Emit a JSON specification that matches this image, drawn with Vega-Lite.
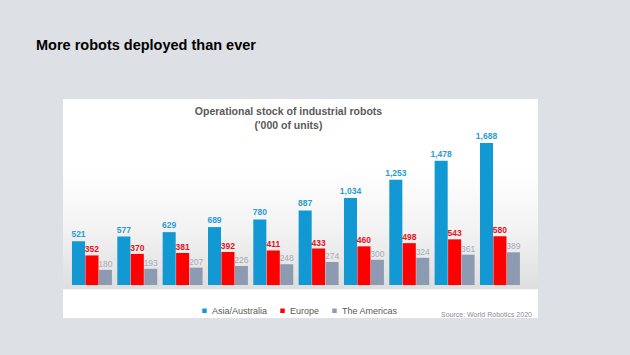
{
  "$schema": "https://vega.github.io/schema/vega-lite/v6.json",
  "width": 475,
  "height": 219,
  "autosize": {"type": "none"},
  "padding": {"left": 63, "top": 99, "right": 92, "bottom": 37},
  "background": "#dde0e5",
  "config": {"view": {"fill": "white", "stroke": null}, "font": "Liberation Sans"},
  "title": {
    "text": "More robots deployed than ever",
    "anchor": "start",
    "frame": "group",
    "dx": -27,
    "offset": 46,
    "font": "Liberation Sans",
    "fontSize": 14.5,
    "fontWeight": "bold",
    "color": "#000000"
  },
  "data": {
    "values": [
      {"year": "2010", "series": "Asia/Australia", "value": 521},
      {"year": "2011", "series": "Asia/Australia", "value": 577},
      {"year": "2012", "series": "Asia/Australia", "value": 629},
      {"year": "2013", "series": "Asia/Australia", "value": 689},
      {"year": "2014", "series": "Asia/Australia", "value": 780},
      {"year": "2015", "series": "Asia/Australia", "value": 887},
      {"year": "2016", "series": "Asia/Australia", "value": 1034},
      {"year": "2017", "series": "Asia/Australia", "value": 1253},
      {"year": "2018", "series": "Asia/Australia", "value": 1478},
      {"year": "2019", "series": "Asia/Australia", "value": 1688},
      {"year": "2010", "series": "Europe", "value": 352},
      {"year": "2011", "series": "Europe", "value": 370},
      {"year": "2012", "series": "Europe", "value": 381},
      {"year": "2013", "series": "Europe", "value": 392},
      {"year": "2014", "series": "Europe", "value": 411},
      {"year": "2015", "series": "Europe", "value": 433},
      {"year": "2016", "series": "Europe", "value": 460},
      {"year": "2017", "series": "Europe", "value": 498},
      {"year": "2018", "series": "Europe", "value": 543},
      {"year": "2019", "series": "Europe", "value": 580},
      {"year": "2010", "series": "The Americas", "value": 180},
      {"year": "2011", "series": "The Americas", "value": 193},
      {"year": "2012", "series": "The Americas", "value": 207},
      {"year": "2013", "series": "The Americas", "value": 226},
      {"year": "2014", "series": "The Americas", "value": 248},
      {"year": "2015", "series": "The Americas", "value": 274},
      {"year": "2016", "series": "The Americas", "value": 300},
      {"year": "2017", "series": "The Americas", "value": 324},
      {"year": "2018", "series": "The Americas", "value": 361},
      {"year": "2019", "series": "The Americas", "value": 389}
    ]
  },
  "layer": [
    {
      "data": {"values": [{}]},
      "mark": {
        "type": "rect",
        "color": {
          "gradient": "linear",
          "x1": 0, "y1": 0, "x2": 0, "y2": 1,
          "stops": [
            {"offset": 0, "color": "#ffffff"},
            {"offset": 0.5, "color": "#f3f3f3"},
            {"offset": 1, "color": "#dedede"}
          ]
        }
      },
      "encoding": {
        "y": {"datum": 1400, "type": "quantitative", "scale": {"domain": [-392, 2212], "nice": false, "zero": false}, "axis": null},
        "y2": {"datum": -50}
      }
    },
    {
      "mark": {"type": "bar"},
      "encoding": {
        "x": {
          "field": "year", "type": "ordinal",
          "scale": {"domain": ["2010","2011","2012","2013","2014","2015","2016","2017","2018","2019"], "paddingInner": 0, "paddingOuter": 0.239, "align": 0.29},
          "axis": {"title": null, "domain": false, "ticks": false, "labelAngle": 0, "labelFontSize": 9, "labelColor": "#595959", "offset": -33, "labelPadding": 6}
        },
        "xOffset": {
          "field": "series", "type": "nominal",
          "scale": {"domain": ["Asia/Australia", "Europe", "The Americas"], "paddingOuter": 0.2, "paddingInner": 0.03}
        },
        "y": {"field": "value", "type": "quantitative", "scale": {"domain": [-392, 2212], "nice": false, "zero": false}, "axis": null},
        "y2": {"datum": 0},
        "color": {
          "field": "series", "type": "nominal",
          "scale": {"domain": ["Asia/Australia", "Europe", "The Americas"], "range": ["#1299d3", "#ff0000", "#8c9ab2"]},
          "legend": {
            "orient": "none", "legendX": 137, "legendY": 207, "direction": "horizontal",
            "title": null, "symbolType": "square", "symbolSize": 20, "symbolStrokeWidth": 0,
            "labelFontSize": 9, "labelColor": "#595959", "columnPadding": 10, "labelOffset": 3
          }
        }
      }
    },
    {
      "transform": [{"filter": "datum.series === 'Asia/Australia'"}],
      "mark": {"type": "text", "baseline": "alphabetic", "dy": -4, "fontSize": 8.5, "fontWeight": "bold", "color": "#2a9dd2"},
      "encoding": {
        "x": {"field": "year", "type": "ordinal"},
        "xOffset": {"field": "series", "type": "nominal"},
        "y": {"field": "value", "type": "quantitative", "scale": {"domain": [-392, 2212], "nice": false, "zero": false}, "axis": null},
        "text": {"field": "value", "type": "quantitative", "format": ",d"}
      }
    },
    {
      "transform": [{"filter": "datum.series === 'Europe'"}],
      "mark": {"type": "text", "baseline": "alphabetic", "dy": -3, "fontSize": 8.5, "fontWeight": "bold", "color": "#e3141c"},
      "encoding": {
        "x": {"field": "year", "type": "ordinal"},
        "xOffset": {"field": "series", "type": "nominal"},
        "y": {"field": "value", "type": "quantitative", "scale": {"domain": [-392, 2212], "nice": false, "zero": false}, "axis": null},
        "text": {"field": "value", "type": "quantitative", "format": ",d"}
      }
    },
    {
      "transform": [{"filter": "datum.series === 'The Americas'"}],
      "mark": {"type": "text", "baseline": "alphabetic", "dy": -3, "fontSize": 8.5, "color": "#a3aab7"},
      "encoding": {
        "x": {"field": "year", "type": "ordinal"},
        "xOffset": {"field": "series", "type": "nominal"},
        "y": {"field": "value", "type": "quantitative", "scale": {"domain": [-392, 2212], "nice": false, "zero": false}, "axis": null},
        "text": {"field": "value", "type": "quantitative", "format": ",d"}
      }
    },
    {
      "data": {"values": [{"line1": "Operational stock of industrial robots", "line2": "('000 of units)"}]},
      "mark": {"type": "text", "baseline": "top", "align": "center", "dx": -12, "fontSize": 10.5, "fontWeight": "bold", "color": "#595959", "lineHeight": 14},
      "encoding": {
        "y": {"datum": 2116, "type": "quantitative", "scale": {"domain": [-392, 2212], "nice": false, "zero": false}, "axis": null},
        "text": {"value": ["Operational stock of industrial robots", "('000 of units)"]}
      }
    },
    {
      "data": {"values": [{"source": "Source: World Robotics 2020"}]},
      "mark": {"type": "text", "baseline": "middle", "align": "right", "dx": 32, "fontSize": 7, "color": "#8c8c8c"},
      "encoding": {
        "x": {"datum": "2019", "type": "ordinal", "axis": null},
        "y": {"datum": -357, "type": "quantitative", "scale": {"domain": [-392, 2212], "nice": false, "zero": false}, "axis": null},
        "text": {"field": "source", "type": "nominal"}
      }
    }
  ]
}
